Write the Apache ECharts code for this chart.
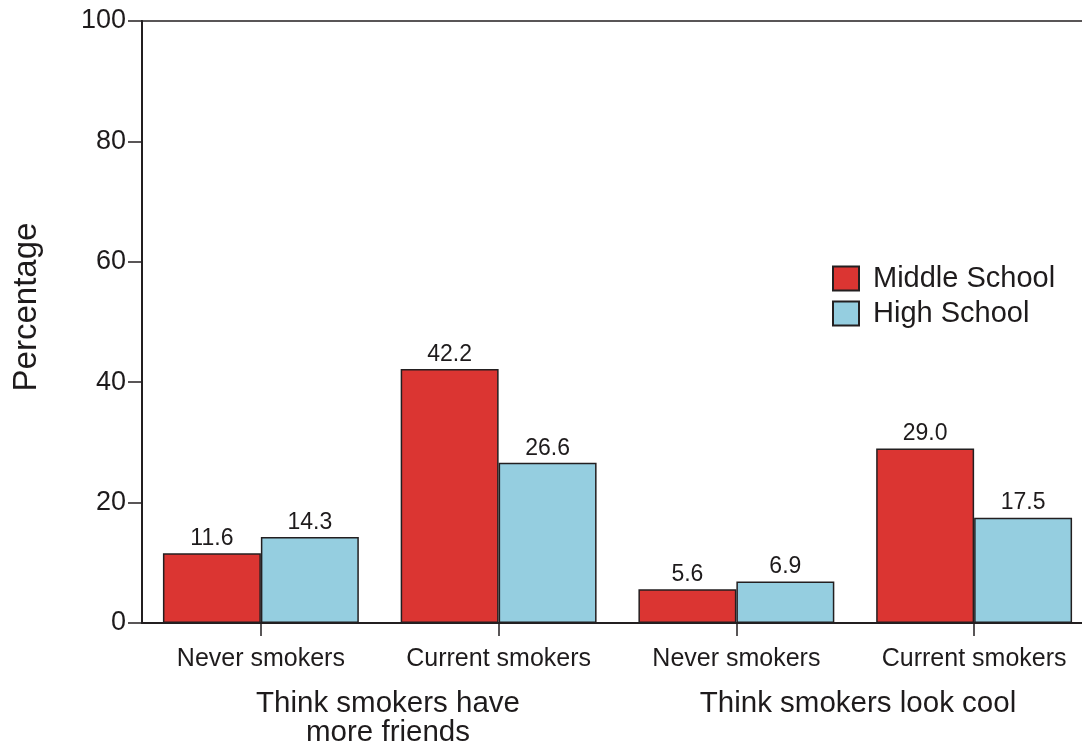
<!DOCTYPE html>
<html>
<head>
<meta charset="utf-8">
<script src="https://cdn.jsdelivr.net/npm/echarts@6/dist/echarts.min.js"></script>
<style>
html,body{margin:0;padding:0;background:#fff;}
#chart{width:1082px;height:749px;}
</style>
</head>
<body>
<div id="chart"></div>
<script>
const categories = ['Never smokers', 'Current smokers', 'Never smokers', 'Current smokers'];
const seriesNames = ['Middle School', 'High School'];
const middleSchool = [11.6, 42.2, 5.6, 29.0];
const highSchool = [14.3, 26.6, 6.9, 17.5];
const groupLabels = ['Think smokers have\nmore friends', 'Think smokers look cool'];
const yAxisTitle = 'Percentage';

const FONT = 'Liberation Sans';
const TXT = '#1e1b1c';
const chart = echarts.init(document.getElementById('chart'), null, {renderer: 'canvas'});

const barLabel = {
  show: true, position: 'top', distance: 3,
  fontFamily: FONT, fontSize: 23, color: TXT,
  formatter: p => Number(p.value).toFixed(1)
};

chart.setOption({
  backgroundColor: '#ffffff',
  animation: false,
  grid: {
    left: 142, top: 21, bottom: 126, right: -11,
    show: true, borderColor: '#231f20', borderWidth: 1.5,
    containLabel: false, outerBoundsMode: 'none'
  },
  legend: {
    orient: 'vertical', left: 827, top: 259,
    itemWidth: 26, itemHeight: 24, itemGap: 6,
    icon: 'rect',
    data: seriesNames,
    textStyle: {fontFamily: FONT, fontSize: 29, color: TXT, lineHeight: 24, padding: [0, 0, 0, 9]}
  },
  xAxis: {
    type: 'category', data: categories,
    axisLine: {lineStyle: {color: '#231f20', width: 2}},
    axisTick: {show: true, alignWithLabel: true, length: 13, lineStyle: {color: '#231f20', width: 1.5}},
    axisLabel: {interval: 0, margin: 24, fontFamily: FONT, fontSize: 25, color: TXT},
    splitLine: {show: false}
  },
  yAxis: {
    type: 'value', min: 0, max: 100, interval: 20,
    axisLine: {show: true, lineStyle: {color: '#231f20', width: 2}},
    axisTick: {show: true, length: 14, lineStyle: {color: '#231f20', width: 1.5}},
    axisLabel: {margin: 16, fontFamily: FONT, fontSize: 27, color: TXT},
    splitLine: {show: false}
  },
  graphic: [
    {type: 'text', x: 27, y: 307, rotation: Math.PI / 2,
     style: {text: yAxisTitle, fontFamily: FONT, fontSize: 33, fill: TXT, align: 'center', verticalAlign: 'middle'}},
    {type: 'text', x: 388, y: 689,
     style: {text: groupLabels[0], fontFamily: FONT, fontSize: 29.5, lineHeight: 29, fill: TXT, align: 'center', verticalAlign: 'top'}},
    {type: 'text', x: 858, y: 689,
     style: {text: groupLabels[1], fontFamily: FONT, fontSize: 29.5, lineHeight: 29, fill: TXT, align: 'center', verticalAlign: 'top'}}
  ],
  series: [
    {
      name: seriesNames[0], type: 'bar', data: middleSchool,
      barGap: 0, barCategoryGap: '17.6%',
      itemStyle: {color: '#db3532', borderColor: '#231f20', borderWidth: 1.5},
      label: barLabel
    },
    {
      name: seriesNames[1], type: 'bar', data: highSchool,
      barGap: 0, barCategoryGap: '17.6%',
      itemStyle: {color: '#95cee0', borderColor: '#231f20', borderWidth: 1.5},
      label: barLabel
    }
  ]
});
</script>
</body>
</html>
